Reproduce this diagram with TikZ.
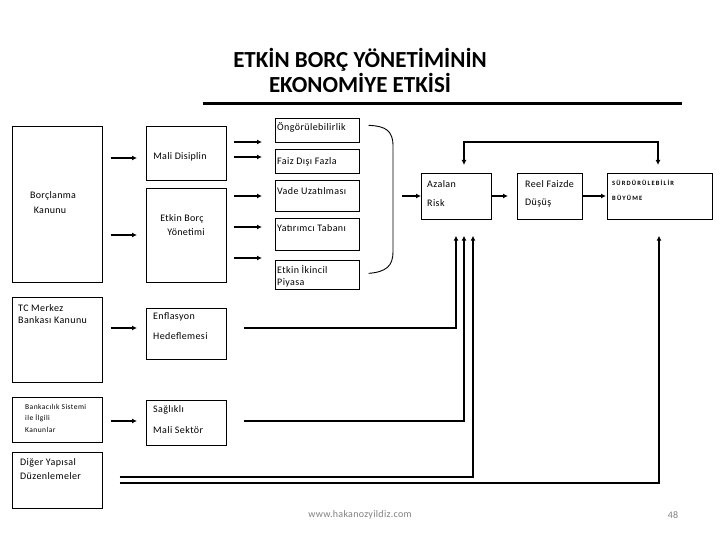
\documentclass[tikz,border=0pt]{standalone}
\usepackage{fontspec}
\setmainfont{Carlito}
\usetikzlibrary{calc,arrows.meta}
\begin{document}
\begin{tikzpicture}[x=1pt,y=-1pt,
  box/.style={draw=black,line width=0.7pt,inner sep=0pt,anchor=north west},
  txt/.style={inner sep=0pt,anchor=west,font=\fontsize{10}{11}\selectfont\addfontfeature{LetterSpace=4}},
  ctxt/.style={inner sep=0pt,font=\fontsize{10}{11}\selectfont\addfontfeature{LetterSpace=3}},
  tiny/.style={inner sep=0pt,anchor=west,font=\fontsize{7.5}{8}\selectfont\addfontfeature{LetterSpace=6}},
  caps/.style={inner sep=0pt,anchor=west,font=\bfseries\fontsize{6.5}{7}\selectfont\addfontfeature{LetterSpace=18}},
  arr/.style={line width=1.5pt,-{Latex[length=5pt,width=5pt]}},
  dbl/.style={line width=1.5pt,{Latex[length=5pt,width=5pt]}-{Latex[length=5pt,width=5pt]}}]
\useasboundingbox (0,0) rectangle (720,540);
% title
\node[inner sep=0pt,align=center,font=\bfseries\fontsize{23}{25}\selectfont] (title) at (360,70) {ETKİN BORÇ YÖNETİMİNİN\\EKONOMİYE ETKİSİ};
\draw[line width=3pt] (203,104) -- (682,104);
% boxes
\node[box,minimum width=90pt,minimum height=156pt] (bk) at (12,126) {};
\node[box,minimum width=80pt,minimum height=54pt] (md) at (146,126) {};
\node[box,minimum width=80pt,minimum height=94pt] (eb) at (146,188) {};
\node[box,minimum width=84pt,minimum height=24pt] (og) at (275,118) {};
\node[box,minimum width=84pt,minimum height=24pt] (fd) at (275,149) {};
\node[box,minimum width=84pt,minimum height=31pt] (vu) at (275,180) {};
\node[box,minimum width=84pt,minimum height=32pt] (yt) at (275,218) {};
\node[box,minimum width=84pt,minimum height=29pt] (ei) at (275,260) {};
\node[box,minimum width=70pt,minimum height=46pt] (ar) at (421,173) {};
\node[box,minimum width=65pt,minimum height=46pt] (rf) at (517,173) {};
\node[box,minimum width=105pt,minimum height=46pt] (sb) at (607,173) {};
\node[box,minimum width=90pt,minimum height=85pt] (tc) at (12,297) {};
\node[box,minimum width=80pt,minimum height=51pt] (enf) at (146,308) {};
\node[box,minimum width=90pt,minimum height=45pt] (bs) at (12,397) {};
\node[box,minimum width=80pt,minimum height=45pt] (sm) at (146,400) {};
\node[box,minimum width=90pt,minimum height=56pt] (dy) at (12,452) {};
% texts
\node[ctxt] at (53,196) {Borçlanma};
\node[ctxt] at (50,210) {Kanunu};
\node[ctxt] at (180,157) {Mali Disiplin};
\node[ctxt] at (182,219) {Etkin Borç};
\node[ctxt] at (186,232) {Yönetimi};
\node[txt] at (277,127) {Öngörülebilirlik};
\node[txt] at (277,162) {Faiz Dışı Fazla};
\node[txt] at (277,191) {Vade Uzatılması};
\node[txt] at (277,228) {Yatırımcı Tabanı};
\node[txt] at (277,269) {Etkin İkincil};
\node[txt] at (277,283) {Piyasa};
\node[txt] at (427,184) {Azalan};
\node[txt] at (427,203) {Risk};
\node[txt] at (525,184) {Reel Faizde};
\node[txt] at (525,203) {Düşüş};
\node[caps] at (612,183) {SÜRDÜRÜLEBİLİR};
\node[caps] at (612,198) {BÜYÜME};
\node[txt] at (18,308) {TC Merkez};
\node[txt] at (18,320) {Bankası Kanunu};
\node[txt] at (153,317) {Enflasyon};
\node[txt] at (153,336) {Hedeflemesi};
\node[tiny] at (25,407) {Bankacılık Sistemi};
\node[tiny] at (25,418) {ile İlgili};
\node[tiny] at (25,430) {Kanunlar};
\node[txt] at (153,410) {Sağlıklı};
\node[txt] at (153,430) {Mali Sektör};
\node[txt] at (20,463) {Diğer Yapısal};
\node[txt] at (20,476) {Düzenlemeler};
% footer
\node[ctxt,text=gray] (web) at (360,515) {www.hakanozyildiz.com};
\node[ctxt,text=gray] (pg) at (673,515) {48};
% arrows left
\draw[arr] ($(bk.east|-0,158)+(8,0)$) -- ($(md.west|-0,158)+(-9,0)$);
\draw[arr] ($(bk.east|-0,235)+(8,0)$) -- ($(eb.west|-0,235)+(-9,0)$);
\draw[arr] ($(tc.east|-0,328)+(8,0)$) -- ($(enf.west|-0,328)+(-9,0)$);
\draw[arr] ($(bs.east|-0,421)+(8,0)$) -- ($(sm.west|-0,421)+(-9,0)$);
% arrows to middle
\draw[arr] ($(md.east|-0,142)+(7,0)$) -- ($(og.west|-0,142)+(-13,0)$);
\draw[arr] ($(md.east|-0,157)+(7,0)$) -- ($(fd.west|-0,157)+(-13,0)$);
\draw[arr] ($(eb.east|-0,196)+(7,0)$) -- ($(vu.west|-0,196)+(-13,0)$);
\draw[arr] ($(eb.east|-0,227)+(7,0)$) -- ($(yt.west|-0,227)+(-13,0)$);
\draw[arr] ($(eb.east|-0,258)+(7,0)$) -- ($(ei.west|-0,258)+(-13,0)$);
% brace
\draw[line width=0.9pt] ($(og.east)+(9,-5)$) .. controls (386,126) and (393,131) .. (393,146)
  -- (393,252) .. controls (393,266) and (386,272) .. ($(ei.east)+(9,-1.5)$);
\coordinate (bm) at (402,196);
\draw[arr] (bm) -- (ar.west|-bm);
% right chain
\draw[arr] (ar.east|-0,196) -- ($(rf.west|-0,196)+(-9,0)$);
\draw[arr] (rf.east|-0,196) -- ($(sb.west|-0,196)+(-1,0)$);
% feedback
\coordinate (fa) at ($(ar.north west)+(43,-8)$);
\coordinate (fb) at ($(sb.north west)+(51,-8)$);
\draw[dbl] (fa) -- (fa|-0,142) -- (fb|-0,142) -- (fb);
% bottom lines
\draw[arr] ($(enf.east|-0,328)+(17,0)$) -| ($(ar.south west)+(35,16)$);
\draw[arr] ($(sm.east|-0,421)+(17,0)$) -| ($(ar.south west)+(43,16)$);
\draw[arr] ($(dy.east|-0,477)+(17,0)$) -| ($(ar.south west)+(52,16)$);
\draw[arr] ($(dy.east|-0,483)+(17,0)$) -| ($(sb.south west)+(52,16)$);
\end{tikzpicture}
\end{document}
